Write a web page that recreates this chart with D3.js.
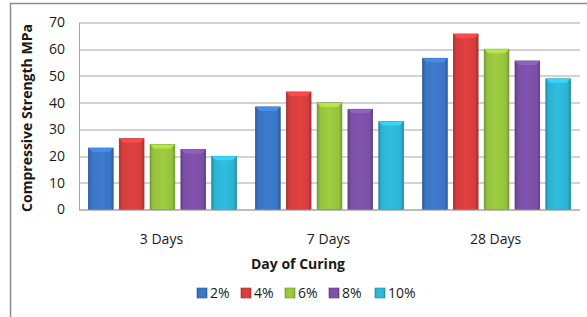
<!DOCTYPE html>
<html>
<head>
<meta charset="utf-8">
<script src="https://cdn.jsdelivr.net/npm/d3@7"></script>
<style>
  body { margin: 0; background: #fff; }
  text { font-family: "Open Sans", "DejaVu Sans", sans-serif; fill: #1a1a1a; }
</style>
</head>
<body>
<div id="chart"></div>
<script>
// chart data
const categories = ['3 Days', '7 Days', '28 Days'];
const seriesNames = ['2%', '4%', '6%', '8%', '10%'];
const values2 = [23.0, 38.4, 56.6];
const values4 = [26.5, 44.0, 65.7];
const values6 = [24.3, 39.9, 60.0];
const values8 = [22.5, 37.5, 55.6];
const values10 = [19.9, 32.9, 48.9];
const yTicks = [0, 10, 20, 30, 40, 50, 60, 70];

const seriesValues = [values2, values4, values6, values8, values10];
const colors = ['#3a74c4', '#d43d3d', '#96c23c', '#7a4fa5', '#2db3d3'];

const W = 587, H = 317;
const margin = {top: 22.5, left: 79, right: 7, bottom: 107.5};
const width = W - margin.left - margin.right;
const height = H - margin.top - margin.bottom;

const svg = d3.select('#chart').append('svg')
  .attr('width', W)
  .attr('height', H);

// gradients for the bevelled bar look
const defs = svg.append('defs');
colors.forEach((c, i) => {
  const g = defs.append('linearGradient').attr('id', 'grad' + i)
    .attr('x1', '0%').attr('x2', '100%').attr('y1', '0%').attr('y2', '0%');
  const base = d3.color(c);
  g.append('stop').attr('offset', '0%').attr('stop-color', base.darker(0.6));
  g.append('stop').attr('offset', '12%').attr('stop-color', base);
  g.append('stop').attr('offset', '50%').attr('stop-color', base.brighter(0.15));
  g.append('stop').attr('offset', '88%').attr('stop-color', base);
  g.append('stop').attr('offset', '100%').attr('stop-color', base.darker(0.6));
});

// outer frame
svg.append('path')
  .attr('d', `M10.5,${H} V3.5 H${W}`)
  .attr('fill', 'none')
  .attr('stroke', '#8c8c8c')
  .attr('stroke-width', 1.5);

const g = svg.append('g').attr('transform', `translate(${margin.left},${margin.top})`);

const x0 = d3.scaleBand().domain(categories).range([0, width]).paddingInner(0.115).paddingOuter(0.057);
const x1 = d3.scaleBand().domain(seriesNames).range([0, x0.bandwidth()]).paddingInner(0.2).paddingOuter(0);
const y = d3.scaleLinear().domain([0, 70]).range([height, 0]);

// gridlines
g.append('g')
  .selectAll('line')
  .data(yTicks)
  .join('line')
  .attr('x1', 0).attr('x2', width)
  .attr('y1', d => Math.round(y(d)) + 0.5).attr('y2', d => Math.round(y(d)) + 0.5)
  .attr('stroke', '#a6a6a6')
  .attr('stroke-width', 1);

// y axis
const yAxis = g.append('g')
  .call(d3.axisLeft(y).tickValues(yTicks).tickSize(0).tickPadding(14));
yAxis.select('.domain').attr('stroke', '#a6a6a6');
yAxis.selectAll('text').style('font-size', '14px').attr('fill', '#1a1a1a');

// bars
const groups = g.append('g').selectAll('g')
  .data(categories)
  .join('g')
  .attr('transform', d => `translate(${x0(d)},0)`);

groups.selectAll('rect')
  .data((d, ci) => seriesNames.map((s, si) => ({s, si, v: seriesValues[si][ci]})))
  .join('rect')
  .attr('x', d => x1(d.s))
  .attr('y', d => y(d.v))
  .attr('width', x1.bandwidth())
  .attr('height', d => height - y(d.v))
  .attr('fill', d => `url(#grad${d.si})`)
  .attr('stroke', d => d3.color(colors[d.si]).darker(0.8))
  .attr('stroke-width', 0.8);

// bar top highlight
groups.selectAll('path.cap')
  .data((d, ci) => seriesNames.map((s, si) => ({s, si, v: seriesValues[si][ci]})))
  .join('path')
  .attr('class', 'cap')
  .attr('d', d => {
    const xl = x1(d.s), xr = xl + x1.bandwidth(), yt = y(d.v);
    return `M${xl},${yt} H${xr} L${xr - 4},${yt + 4} H${xl + 4} Z`;
  })
  .attr('fill', d => d3.color(colors[d.si]).brighter(0.5));

// x axis line
g.append('line')
  .attr('x1', 0).attr('x2', width)
  .attr('y1', height + 0.5).attr('y2', height + 0.5)
  .attr('stroke', '#a6a6a6');

// category labels
g.append('g').selectAll('text')
  .data(categories)
  .join('text')
  .attr('x', d => x0(d) + x0.bandwidth() / 2 - 1)
  .attr('y', height + 34)
  .attr('text-anchor', 'middle')
  .style('font-size', '14px')
  .text(d => d);

// axis titles
svg.append('text')
  .attr('x', 298)
  .attr('y', 269)
  .attr('text-anchor', 'middle')
  .style('font-size', '14px')
  .style('font-weight', 'bold')
  .text('Day of Curing');

svg.append('text')
  .attr('transform', `translate(32,${(margin.top + H - margin.bottom) / 2 + 2}) rotate(-90)`)
  .attr('text-anchor', 'middle')
  .style('font-size', '14px')
  .style('font-weight', 'bold')
  .text('Compressive Strength MPa');

// legend
const legendX = [197, 241, 285, 329, 375];
const legend = svg.append('g').selectAll('g')
  .data(seriesNames)
  .join('g')
  .attr('transform', (d, i) => `translate(${legendX[i]},288)`);

legend.append('rect')
  .attr('width', 10).attr('height', 10)
  .attr('fill', (d, i) => `url(#grad${i})`)
  .attr('stroke', (d, i) => d3.color(colors[i]).darker(0.8))
  .attr('stroke-width', 0.6);

legend.append('text')
  .attr('x', 13)
  .attr('y', 10)
  .style('font-size', '14px')
  .text(d => d);
</script>
</body>
</html>
